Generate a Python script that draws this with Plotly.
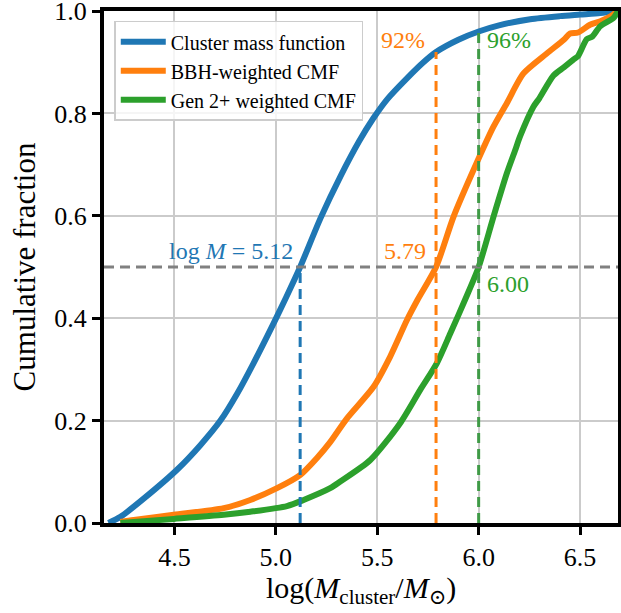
import plotly.graph_objects as go

# Cumulative distributions of log cluster mass
cmf_x = [4.175, 4.234, 4.35, 4.513, 4.628, 4.727, 4.81, 4.89, 4.989, 5.05, 5.12,
         5.22, 5.32, 5.41, 5.48, 5.55, 5.65, 5.728, 5.79, 5.9, 6.0, 6.1, 6.254,
         6.4, 6.5, 6.6, 6.687]
cmf_y = [0.0, 0.012, 0.048, 0.104, 0.152, 0.2, 0.253, 0.312, 0.39, 0.44, 0.5,
         0.595, 0.678, 0.745, 0.79, 0.828, 0.87, 0.9, 0.92, 0.944, 0.96, 0.972, 0.984,
         0.99, 0.993, 0.996, 1.0]

bbh_x = [4.234, 4.3, 4.497, 4.743, 4.874, 5.006, 5.121, 5.203, 5.268, 5.35, 5.482,
         5.564, 5.646, 5.699, 5.79, 5.876, 5.99, 6.073, 6.139, 6.221, 6.336, 6.42,
         6.451, 6.49, 6.549, 6.6, 6.648, 6.687]
bbh_y = [0.002, 0.006, 0.016, 0.029, 0.045, 0.068, 0.094, 0.127, 0.158, 0.204, 0.266,
         0.325, 0.396, 0.436, 0.5, 0.598, 0.703, 0.774, 0.82, 0.878, 0.917, 0.944,
         0.956, 0.958, 0.973, 0.98, 0.989, 1.0]

gen2_x = [4.234, 4.497, 4.743, 4.874, 5.055, 5.137, 5.268, 5.318, 5.466, 5.613,
          5.712, 5.794, 5.86, 5.933, 6.0, 6.073, 6.139, 6.18, 6.204, 6.27, 6.3,
          6.369, 6.42, 6.467, 6.49, 6.533, 6.56, 6.599, 6.664, 6.687]
gen2_y = [0.0, 0.008, 0.016, 0.022, 0.033, 0.045, 0.068, 0.081, 0.123, 0.195,
          0.26, 0.312, 0.37, 0.436, 0.5, 0.598, 0.683, 0.728, 0.755, 0.813, 0.83,
          0.874, 0.89, 0.905, 0.912, 0.945, 0.95, 0.97, 0.986, 1.0]

series_names = ["Cluster mass function", "BBH-weighted CMF", "Gen 2+ weighted CMF"]
series_colors = ["#1f77b4", "#ff7f0e", "#2ca02c"]

# Medians and the CMF fraction enclosed below the weighted medians
median_cmf = 5.12
median_bbh = 5.79
median_gen2 = 6.00
frac_at_bbh = 0.92
frac_at_gen2 = 0.96

x_range = [4.153, 6.687]
x_ticks = [4.5, 5.0, 5.5, 6.0, 6.5]
y_ticks = [0.0, 0.2, 0.4, 0.6, 0.8, 1.0]

FONT = "Liberation Serif, DejaVu Serif, serif"
dash_green = "#3f9a46"

fig = go.Figure()
for xs, ys, name, col in zip([cmf_x, bbh_x, gen2_x], [cmf_y, bbh_y, gen2_y],
                             series_names, series_colors):
    fig.add_trace(go.Scatter(x=xs, y=ys, mode="lines", name=name,
                             line=dict(color=col, width=6, shape="spline",
                                       smoothing=0.7)))

dash = "10px,6px"
# horizontal median line
fig.add_shape(type="line", x0=x_range[0], x1=x_range[1], y0=0.5, y1=0.5,
              xref="x", yref="y", line=dict(color="#808080", width=3, dash=dash))
# vertical median markers
for xv, yv, col in [(median_cmf, 0.5, series_colors[0]),
                    (median_bbh, frac_at_bbh, series_colors[1]),
                    (median_gen2, frac_at_gen2, dash_green)]:
    fig.add_shape(type="line", x0=xv, x1=xv, y0=0, y1=yv, xref="x", yref="y",
                  line=dict(color=col, width=3, dash=dash))

ann_font = 24
annots = [
    dict(x=median_cmf - 0.024, y=0.532, text=f"log <i>M</i> = {median_cmf:.2f}",
         xanchor="right", color=series_colors[0]),
    dict(x=median_bbh - 0.042, y=0.532, text=f"{median_bbh:.2f}",
         xanchor="right", color=series_colors[1]),
    dict(x=median_gen2 + 0.032, y=0.466, text=f"{median_gen2:.2f}",
         xanchor="left", color=series_colors[2]),
    dict(x=median_bbh - 0.045, y=0.943, text=f"{frac_at_bbh*100:.0f}%",
         xanchor="right", color=series_colors[1]),
    dict(x=median_gen2 + 0.032, y=0.943, text=f"{frac_at_gen2*100:.0f}%",
         xanchor="left", color=series_colors[2]),
]
for a in annots:
    fig.add_annotation(x=a["x"], y=a["y"], text=a["text"], xref="x", yref="y",
                       xanchor=a["xanchor"], yanchor="middle", showarrow=False,
                       font=dict(family=FONT, size=ann_font, color=a["color"]))

# x-axis title, placed just under the tick labels
fig.add_annotation(x=0.5, y=-0.131, xref="paper", yref="paper",
                   text="log(<i>M</i><sub>cluster</sub>/<i>M</i><sub>⊙</sub>)",
                   xanchor="center", yanchor="middle", showarrow=False,
                   font=dict(family=FONT, size=30, color="black"))

axis_common = dict(showline=True, linecolor="black", linewidth=4, mirror=True,
                   ticks="outside", ticklen=8, tickwidth=3, tickcolor="black",
                   showgrid=True, gridcolor="#cbcbcb", gridwidth=1.5,
                   zeroline=False, ticklabeloverflow="allow", automargin=False,
                   tickfont=dict(family=FONT, size=26, color="black"))

fig.update_layout(
    width=621, height=613,
    margin=dict(l=104, r=3, t=11, b=90),
    paper_bgcolor="white", plot_bgcolor="white",
    xaxis=dict(range=x_range, tickvals=x_ticks,
               ticktext=[f"{v:.1f}" for v in x_ticks],
               **axis_common),
    yaxis=dict(range=[0, 1], tickvals=y_ticks,
               ticktext=[f"{v:.1f}" for v in y_ticks],
               title=dict(text="Cumulative fraction",
                          font=dict(family=FONT, size=31, color="black"), standoff=10),
               **axis_common),
    legend=dict(x=0.02, y=0.981, xanchor="left", yanchor="top",
                bgcolor="rgba(255,255,255,0.8)", bordercolor="#cccccc", borderwidth=1.5,
                font=dict(family=FONT, size=20, color="black"),
                tracegroupgap=0, itemwidth=45),
    showlegend=True,
)

fig.write_html("out.html")
